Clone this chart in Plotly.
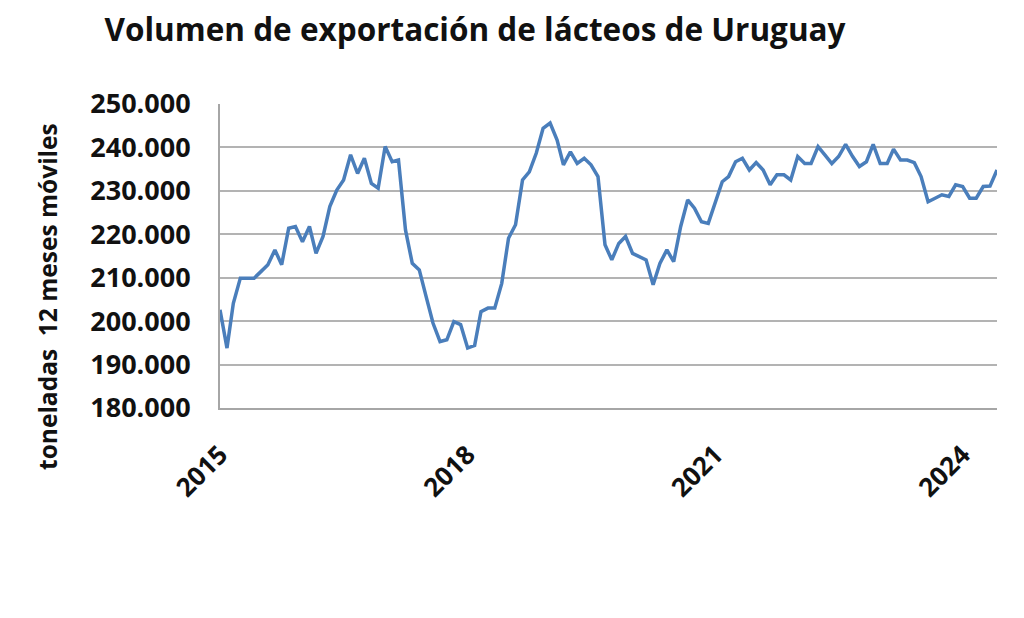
import pandas as pd
import plotly.graph_objects as go

# 12-month moving total of dairy export volume (tonnes), monthly from Jan 2015
volumen = [
    202600, 193800, 204100, 209900, 209900, 209900, 211400, 213000, 216400, 213000,
    221400, 221800, 218300, 221800, 215600, 219500, 226400, 230200, 232500, 238300,
    234000, 237500, 231700, 230600, 240200, 236700, 237100, 221000, 213300, 211800,
    205700, 199500, 195300, 195700, 199900, 199200, 193800, 194400, 202200, 203000,
    203000, 208700, 219100, 222200, 232500, 234400, 238700, 244400, 245600, 241700,
    236000, 239000, 236300, 237500, 236000, 233300, 217600, 214100, 217900, 219500,
    215600, 214900, 214100, 208400, 213300, 216400, 213700, 221800, 227900, 226000,
    222900, 222500, 227100, 232100, 233300, 236700, 237500, 234800, 236500, 234800,
    231400, 233700, 233700, 232500, 237900, 236300, 236300, 240200, 238300, 236300,
    237900, 240700, 237900, 235600, 236700, 240700, 236300, 236300, 239600, 237100,
    237100, 236500, 233300, 227500, 228300, 229100, 228700, 231400, 231000, 228300,
    228300, 231000, 231100, 234800,
]
meses = pd.date_range("2015-01-01", periods=len(volumen), freq="MS")
anios_ticks = ["2015-01-01", "2018-01-01", "2021-01-01", "2024-01-01"]
y_ticks = [180000, 190000, 200000, 210000, 220000, 230000, 240000, 250000]
y_tick_text = ["180.000", "190.000", "200.000", "210.000", "220.000", "230.000", "240.000", "250.000"]

titulo = "Volumen de exportación de lácteos de Uruguay"
eje_y = "toneladas\u00a0 12 meses móviles"

FONT = "Open Sans"

fig = go.Figure()
fig.add_trace(go.Scatter(
    x=meses, y=volumen, mode="lines",
    line=dict(color="#4a7ebb", width=3.5),
    hoverinfo="skip", showlegend=False,
))

fig.update_layout(
    width=1024, height=618,
    margin=dict(l=220, r=27, t=104, b=210),
    paper_bgcolor="white", plot_bgcolor="white",
    title=dict(
        text=titulo, x=475 / 1024, xanchor="center", xref="container",
        y=1 - 30 / 618, yanchor="middle", yref="container",
        font=dict(family=FONT, size=31.5, color="#111111", weight="bold"),
    ),
    xaxis=dict(
        type="date",
        range=[meses[0], meses[-1]],
        tickvals=anios_ticks, tickformat="%Y", tickangle=-45,
        showgrid=False, zeroline=False,
        showline=True, linecolor="#a6a6a6", linewidth=2,
        ticks="", ticklabelstandoff=19,
        tickfont=dict(family=FONT, size=26, color="#111111", weight="bold"),
    ),
    yaxis=dict(
        range=[180000, 250000],
        tickvals=y_ticks, ticktext=y_tick_text,
        showgrid=True, gridcolor="#b3b3b3", gridwidth=2,
        zeroline=False,
        showline=True, linecolor="#a6a6a6", linewidth=2,
        ticks="", ticklabelstandoff=22,
        tickfont=dict(family=FONT, size=27, color="#111111", weight="bold"),
    ),
    annotations=[dict(
        text=eje_y, textangle=-90,
        xref="paper", yref="paper",
        x=(47 - 220) / 777, y=(408 - 297) / 304,
        xanchor="center", yanchor="middle", showarrow=False,
        font=dict(family=FONT, size=24.5, color="#111111", weight="bold"),
    )],
)

fig.write_html("out.html")
